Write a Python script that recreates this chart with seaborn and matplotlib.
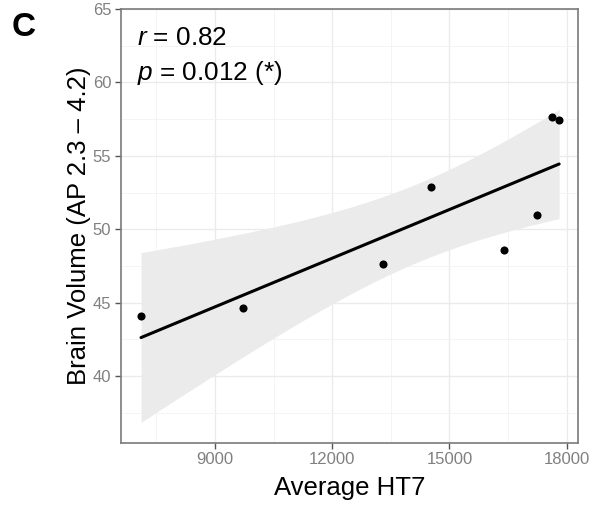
import numpy as np
import pandas as pd
import matplotlib
matplotlib.use("Agg")
import matplotlib.pyplot as plt
import matplotlib.ticker as tck
import seaborn as sns

# values
ht7 = [7106, 9709, 13290, 14539, 16400, 17244, 17635, 17806]
brain_volume = [44.09, 44.61, 47.63, 52.88, 48.59, 50.95, 57.63, 57.43]
x_ticks = [9000, 12000, 15000, 18000]
y_ticks = [40, 45, 50, 55, 60, 65]
r_text = "0.82"
p_text = "0.012 (*)"

df = pd.DataFrame({"ht7": ht7, "vol": brain_volume})

sns.set_style("white")
plt.rcParams["font.family"] = ["Liberation Sans", "DejaVu Sans"]
plt.rcParams["mathtext.fontset"] = "custom"
plt.rcParams["mathtext.it"] = "Liberation Sans:italic"
plt.rcParams["mathtext.rm"] = "Liberation Sans"
plt.rcParams["text.color"] = "black"
plt.rcParams["axes.labelcolor"] = "black"

fig = plt.figure(figsize=(5.97, 5.07), dpi=100)
ax = fig.add_axes([0.2027, 0.1268, 0.7655, 0.8552])

# linear fit + analytic 95% confidence band (like ggplot's geom_smooth(method="lm"))
x = df["ht7"].to_numpy(float)
y = df["vol"].to_numpy(float)
n = len(x)
slope, intercept = np.polyfit(x, y, 1)
resid = y - (slope * x + intercept)
s = np.sqrt(np.sum(resid ** 2) / (n - 2))
xs = np.linspace(x.min(), x.max(), 200)
fit = slope * xs + intercept
se = s * np.sqrt(1 / n + (xs - x.mean()) ** 2 / np.sum((x - x.mean()) ** 2))
t_crit = 2.446912  # t(0.975, df=6)
ax.fill_between(xs, fit - t_crit * se, fit + t_crit * se, color="#ebebeb", lw=0, zorder=2)

sns.regplot(data=df, x="ht7", y="vol", ax=ax, ci=None, truncate=True,
            scatter_kws={"s": 34, "color": "black", "alpha": 1, "zorder": 4, "linewidths": 0},
            line_kws={"color": "black", "lw": 2.2, "zorder": 3})

ax.set_xlim(6594, 18289)
ax.set_ylim(35.45, 65)
ax.set_xticks(x_ticks)
ax.set_yticks(y_ticks)
ax.xaxis.set_minor_locator(tck.AutoMinorLocator(2))
ax.yaxis.set_minor_locator(tck.AutoMinorLocator(2))
ax.grid(which="major", color="#ebebeb", lw=1.0, zorder=0)
ax.grid(which="minor", color="#f3f3f3", lw=0.6, zorder=0)
ax.set_axisbelow(True)

for sp in ax.spines.values():
    sp.set_color("#7a7a7a")
    sp.set_linewidth(1.2)

ax.tick_params(which="major", length=4, width=1, color="#555555",
               labelsize=12, labelcolor="#808080", direction="out", pad=3,
               bottom=True, left=True)
ax.tick_params(which="minor", length=0)

ax.set_xlabel("Average HT7", fontsize=18.5, labelpad=6)
ax.set_ylabel("Brain Volume (AP 2.3 \u2013 4.2)", fontsize=18.5, labelpad=1)

ax.text(0.035, 0.962, "$r$ = " + r_text, transform=ax.transAxes,
        fontsize=18.8, va="top", ha="left")
ax.text(0.035, 0.886, "$p$ = " + p_text, transform=ax.transAxes,
        fontsize=18.8, va="top", ha="left")

fig.text(0.02, 0.929, "C", fontsize=24, fontweight="bold", ha="left", va="baseline")

fig.savefig("out.png", dpi=100)
